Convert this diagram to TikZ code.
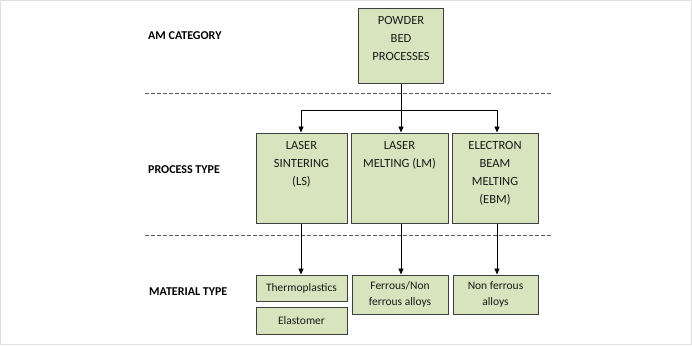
\documentclass[tikz,border=0pt]{standalone}
\usepackage{fontspec}
\setmainfont{Carlito}
\usetikzlibrary{arrows.meta}
\definecolor{boxfill}{HTML}{D7E4BD}
\definecolor{boxline}{HTML}{3F3F3F}
\definecolor{dashgray}{HTML}{5A5A5A}
\begin{document}
\begin{tikzpicture}[x=1pt,y=-1pt,
  box/.style={draw=boxline, line width=1pt, fill=boxfill, inner sep=0pt},
  boxtxt/.style={anchor=north, align=center, inner sep=0pt, font=\fontsize{12.5}{18}\selectfont, text=black!90},
  mattxt/.style={align=center, inner sep=0pt, font=\fontsize{11.5}{15.6}\selectfont, text=black!90},
  cat/.style={anchor=west, inner sep=0pt, font=\fontsize{12}{14}\selectfont\bfseries, text=black},
  sep/.style={draw=dashgray, line width=0.8pt, dash pattern=on 3.5pt off 2.5pt},
  conn/.style={draw=black, line width=0.9pt, -{Triangle[length=6pt,width=5pt]}}
]
\useasboundingbox (0,0) rectangle (692,345);
\draw[draw=black!12, line width=1pt] (0.5,0.5) rectangle (691.5,344.5);

% separators
\coordinate (s1a) at (145,93);
\coordinate (s1b) at (552,93);
\coordinate (s2a) at (145,235);
\coordinate (s2b) at (553,235);
\draw[sep] (s1a) -- (s1b);
\draw[sep] (s2a) -- (s2b);

% category labels
\node[cat] (lam) at (148,36) {AM CATEGORY};
\node[cat] (lpt) at (148,170) {PROCESS TYPE};
\node[cat] (lmt) at (149,292) {MATERIAL TYPE};

% top box
\node[box, minimum width=85pt, minimum height=74pt] (pbp) at (401,46) {};
\node[boxtxt] (pbpt) at ([yshift=-8pt]pbp.north) {POWDER\\BED\\PROCESSES};

% process boxes
\node[box, minimum width=91pt, minimum height=90pt] (ls) at (301.5,178) {};
\node[box, minimum width=97pt, minimum height=90pt] (lm) at (399.5,178) {};
\node[box, minimum width=86pt, minimum height=90pt] (ebm) at (495,178) {};
\node[boxtxt] (lst) at ([yshift=-8.5pt]ls.north) {LASER\\SINTERING\\(LS)};
\node[boxtxt] (lmt2) at ([yshift=-8.5pt]lm.north) {LASER\\MELTING (LM)};
\node[boxtxt] (ebmt) at ([yshift=-8.5pt]ebm.north) {ELECTRON\\BEAM\\MELTING\\(EBM)};

% material boxes
\node[box, minimum width=91pt, minimum height=26pt] (thp) at (301.5,288) {};
\node[mattxt] at (thp.center) {Thermoplastics};
\node[box, minimum width=91pt, minimum height=27pt] (ela) at (301.5,320.5) {};
\node[mattxt] at (ela.center) {Elastomer};
\node[box, minimum width=96pt, minimum height=39pt] (fer) at (400,294.5) {};
\node[mattxt] at (fer.center) {Ferrous/Non\\ferrous alloys};
\node[box, minimum width=85pt, minimum height=39pt] (nfa) at (495.5,294.5) {};
\node[mattxt] at (nfa.center) {Non ferrous\\alloys};

% connectors
\coordinate (jn) at (401,110);
\draw[line width=0.9pt] (pbp.south) -- (jn);
\draw[conn] (jn) -| ([xshift=-0.5pt]ls.north);
\draw[conn] (jn) -| ([xshift=2pt]ebm.north);
\draw[conn] (jn) -- (jn |- lm.north);
\draw[conn] ([xshift=-0.5pt]ls.south) -- ([xshift=-0.5pt]ls.south |- thp.north);
\draw[conn] ([xshift=1.5pt]lm.south) -- ([xshift=1.5pt]lm.south |- fer.north);
\draw[conn] ([xshift=2pt]ebm.south) -- ([xshift=2pt]ebm.south |- nfa.north);
\end{tikzpicture}
\end{document}
